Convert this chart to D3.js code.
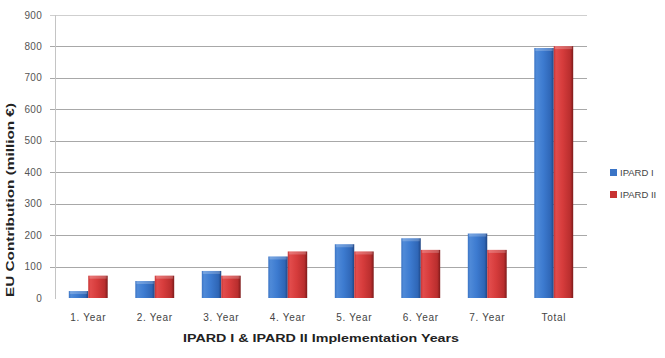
<!DOCTYPE html>
<html><head><meta charset="utf-8">
<script src="https://cdn.jsdelivr.net/npm/d3@7"></script>
<style>body{margin:0;background:#fff}svg{display:block}text{font-family:"Liberation Sans",Arial,sans-serif}</style>
</head><body>
<svg id="c" width="665" height="358"></svg>
<script>
const categories = ["1. Year","2. Year","3. Year","4. Year","5. Year","6. Year","7. Year","Total"];
const seriesNames = ["IPARD I","IPARD II"];
const ipard1 = [22, 54, 86, 132, 171, 190, 205, 795];
const ipard2 = [71, 71, 71, 148, 148, 153, 153, 801];
const yTicks = [0,100,200,300,400,500,600,700,800,900];

const svg = d3.select("#c");
const m = {l:55, r:587, t:15, b:298};
const x = d3.scaleBand().domain(categories).range([m.l, m.r]).paddingInner(0).paddingOuter(0);
const y = d3.scaleLinear().domain([0,900]).range([m.b, m.t]);
const xs = d3.scaleBand().domain(seriesNames).range([0, x.bandwidth()]).paddingInner(0).paddingOuter(0.71);

const defs = svg.append("defs");
function grad(id, stops){
  const g = defs.append("linearGradient").attr("id",id).attr("x1","0").attr("x2","1").attr("y1","0").attr("y2","0");
  stops.forEach(s=>g.append("stop").attr("offset",s[0]).attr("stop-color",s[1]));
}
grad("gBlue", [[0,"#3b74c4"],[0.12,"#4f8ad8"],[0.45,"#3d7bd0"],[0.85,"#2f66b6"],[1,"#1f4583"]]);
grad("gRed", [[0,"#c73434"],[0.12,"#e24c4c"],[0.45,"#d63c3c"],[0.85,"#b92e2e"],[1,"#7d1a1a"]]);
const fills = {"IPARD I":"url(#gBlue)","IPARD II":"url(#gRed)"};
const legendFill = {"IPARD I":"#3a74c6","IPARD II":"#c83232"};

// grid
svg.append("g").selectAll("line").data(yTicks.filter(d=>d>0)).join("line")
  .attr("x1", m.l-5).attr("x2", m.r)
  .attr("y1", d=>Math.round(y(d))+0.5).attr("y2", d=>Math.round(y(d))+0.5)
  .attr("stroke", d=>d===900?"#cfcfcf":"#a8a8a8").attr("stroke-width",1);
// y axis line
svg.append("line").attr("x1",m.l+0.5).attr("x2",m.l+0.5).attr("y1",m.t).attr("y2",m.b+1)
  .attr("stroke","#c4c4c4");

// tick labels
svg.append("g").selectAll("text").data(yTicks).join("text")
  .attr("x",42).attr("y",d=>y(d)+3.5).attr("text-anchor","end")
  .attr("font-size",10).attr("fill","#555").attr("letter-spacing",0.3).text(d=>d);

// bars
const data = categories.map((c,i)=>({c, vals:[{s:"IPARD I",v:ipard1[i]},{s:"IPARD II",v:ipard2[i]}]}));
const grp = svg.append("g").selectAll("g").data(data).join("g").attr("transform",d=>`translate(${x(d.c)},0)`);
grp.selectAll("rect").data(d=>d.vals).join("rect")
  .attr("x",d=>xs(d.s)).attr("width",xs.bandwidth())
  .attr("y",d=>y(d.v)).attr("height",d=>y(0)-y(d.v))
  .attr("fill",d=>fills[d.s]);
// top highlight
grp.selectAll("rect.h").data(d=>d.vals).join("rect").attr("class","h")
  .attr("x",d=>xs(d.s)+1).attr("width",xs.bandwidth()-2)
  .attr("y",d=>y(d.v)).attr("height",d=>Math.min(3, y(0)-y(d.v)))
  .attr("fill","#fff").attr("opacity",0.22);

// category labels
svg.append("g").selectAll("text").data(categories).join("text")
  .attr("x",d=>x(d)+x.bandwidth()/2).attr("y",321).attr("text-anchor","middle")
  .attr("font-size",10).attr("fill","#444").attr("letter-spacing",0.7).text(d=>d);

// axis titles
svg.append("text").attr("x",321).attr("y",342).attr("text-anchor","middle")
  .attr("font-size",11).attr("font-weight","bold").attr("fill","#222")
  .attr("textLength",276).attr("lengthAdjust","spacingAndGlyphs")
  .text("IPARD I & IPARD II Implementation Years");
svg.append("text").attr("transform","translate(14,200) rotate(-90)").attr("text-anchor","middle")
  .attr("font-size",11).attr("font-weight","bold").attr("fill","#222")
  .attr("textLength",194).attr("lengthAdjust","spacingAndGlyphs")
  .text("EU Contribution (million €)");

// legend
const lg = svg.append("g").selectAll("g").data(seriesNames).join("g")
  .attr("transform",(d,i)=>`translate(610,${169+i*22})`);
lg.append("rect").attr("width",7).attr("height",7).attr("fill",d=>legendFill[d]);
lg.append("text").attr("x",10).attr("y",7).attr("font-size",9.5).attr("fill","#444").text(d=>d);
</script>
</body></html>
